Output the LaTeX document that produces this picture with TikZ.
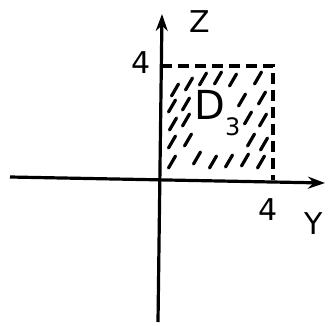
\documentclass[tikz,border=0pt]{standalone}
\usepackage{fontspec}
\setmainfont{DejaVu Sans}
\usetikzlibrary{arrows.meta}
\begin{document}
\begin{tikzpicture}[x=1pt,y=-1pt,
  axis/.style={line width=3.2pt,-{Stealth[length=17pt,width=12pt]}},
  bound/.style={line width=3.2pt,dash pattern=on 11pt off 6pt},
  hatch/.style={line width=3.2pt,line cap=round},
  lab/.style={font=\fontsize{30}{32}\selectfont,inner sep=0pt}]
\useasboundingbox (0,0) rectangle (332,325);
\coordinate (xl) at (10,177);
\coordinate (xr) at (325,183);
\coordinate (yb) at (158,322);
\coordinate (yt) at (162,14);
\coordinate (A) at (161,66);
\coordinate (B) at (273,66);
\coordinate (C) at (273,180);
\draw[axis] (xl) -- (xr);
\draw[axis] (yb) -- (yt);
\draw[bound] (A) -- (B) -- (C);
\foreach \p in {(175,90),(189,84),(203,79),(218,78),(233,80),(258,78),
  (172,106),(186,104),(242,100),(262,98),
  (173,124),(186,120),(248,118),(263,120),
  (172,142),(188,140),(251,140),(264,144),
  (172,162),(197,158),(213,162),(229,161),(245,160),(261,162)}
  \draw[hatch] \p ++(-3.5,6) -- ++(7,-12);
\node[lab] (z) at (200,22) {Z};
\node[lab] (fz) at (141,63) {4};
\node[lab] (fy) at (268,210) {4};
\node[lab] (y) at (314,224) {Y};
\node[lab,anchor=west,font=\fontsize{40}{42}\selectfont] (d) at (194,113) {D\raisebox{-16pt}{\fontsize{24}{26}\selectfont 3}};
\end{tikzpicture}
\end{document}
